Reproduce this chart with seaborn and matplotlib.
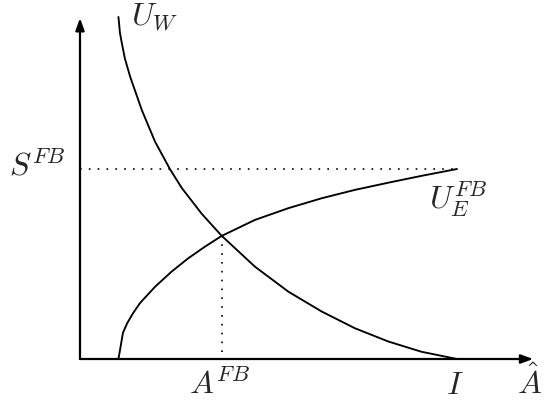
import matplotlib
matplotlib.use("Agg")
import matplotlib.pyplot as plt
import seaborn as sns

# curve points (x: I = 10, y: S^FB = 5)
uw_x = [1.02, 1.06, 1.11, 1.19, 1.33, 1.64, 1.99, 2.39, 2.70, 3.23, 3.76, 4.64, 5.53, 6.41, 7.29, 8.18, 9.06, 10.0]
uw_y = [9.0, 8.58, 8.31, 7.91, 7.43, 6.55, 5.72, 4.99, 4.50, 3.82, 3.24, 2.43, 1.77, 1.25, 0.81, 0.46, 0.19, 0.0]

ue_x = [1.02, 1.14, 1.25, 1.41, 1.59, 1.99, 2.43, 2.87, 3.32, 3.76, 4.64, 5.53, 6.41, 7.29, 8.18, 9.06, 10.0]
ue_y = [0.0, 0.69, 0.94, 1.21, 1.47, 1.90, 2.30, 2.65, 2.96, 3.24, 3.66, 3.97, 4.23, 4.45, 4.64, 4.82, 5.0]

s_fb = 5.0
a_fb = 3.76
a_fb_top = 3.24
i_val = 10.0

sns.set_theme(style="white")
plt.rcParams["mathtext.fontset"] = "cm"

fig = plt.figure(figsize=(5.45, 4.03), dpi=100)
ax = fig.add_axes([0, 0, 1, 1])
ax.set_xlim(-80 / 37.7, 465 / 37.7)
ax.set_ylim(-44 / 38, 359 / 38)
ax.axis("off")

# axes with arrows
arrow = dict(arrowstyle="-|>,head_length=0.6,head_width=0.22", color="black", lw=1.6,
             shrinkA=0, shrinkB=0)
ax.annotate("", xy=(12.02, 0), xytext=(0, 0), arrowprops=arrow)
ax.annotate("", xy=(0, 8.97), xytext=(0, 0), arrowprops=arrow)

# dotted guides
ax.plot([0, i_val], [s_fb, s_fb], color="black", lw=1.2, ls=(0, (1, 4.3)))
ax.plot([a_fb, a_fb], [0.18, a_fb_top], color="black", lw=1.2, ls=(0, (1, 4.3)))

# curves
sns.lineplot(x=uw_x, y=uw_y, sort=False, estimator=None, color="black", lw=1.35, ax=ax)
sns.lineplot(x=ue_x, y=ue_y, sort=False, estimator=None, color="black", lw=1.35, ax=ax)

fs = 23
base = (359 - 394) / 38
ax.text((37 - 80) / 37.7, s_fb + 0.05, r"$S^{FB}$", fontsize=fs, ha="center", va="center")
ax.text((155 - 80) / 37.7, (359 - 17) / 38, r"$U_W$", fontsize=fs, ha="center", va="center")
ax.text((458 - 80) / 37.7, (359 - 199) / 38, r"$U_E^{FB}$", fontsize=fs, ha="center", va="center")
ax.text(a_fb - 0.05, base, r"$A^{FB}$", fontsize=fs, ha="center", va="baseline")
ax.text((455 - 80) / 37.7, base, r"$I$", fontsize=fs, ha="center", va="baseline")
ax.text((530 - 80) / 37.7, base, r"$\hat{A}$", fontsize=fs, ha="center", va="baseline")

fig.savefig("out.png", dpi=100, facecolor="white")
